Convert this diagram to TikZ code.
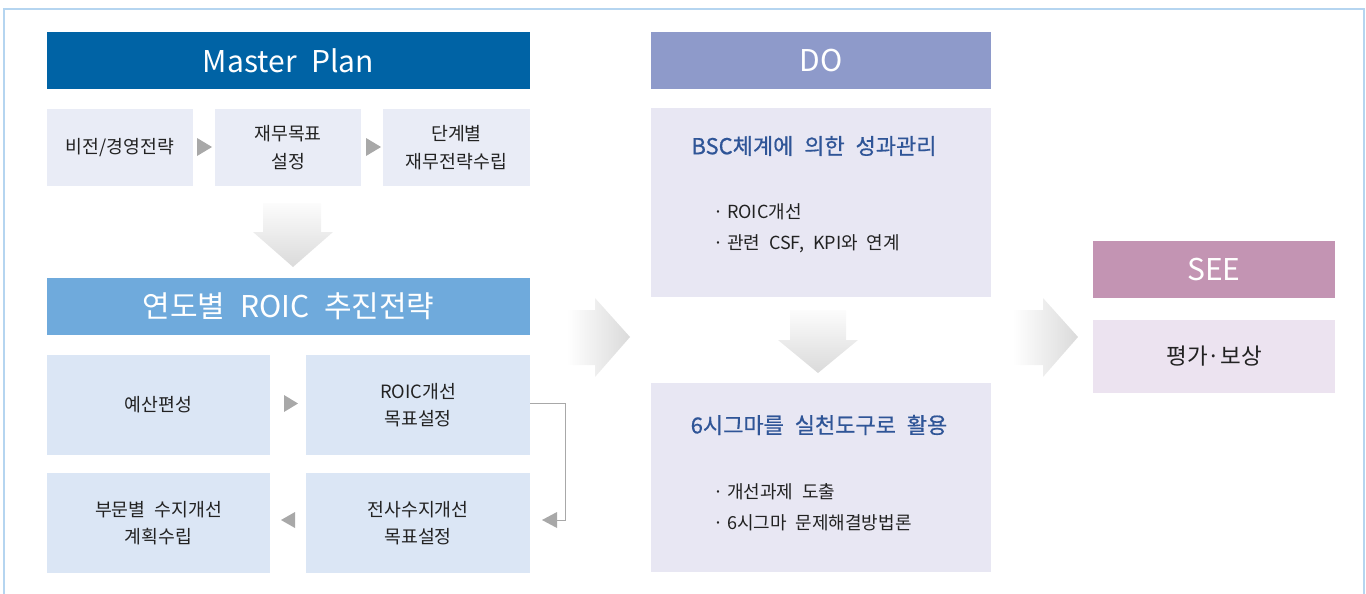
\documentclass[tikz,border=0pt]{standalone}
\usepackage{fontspec}
\setmainfont{Noto Sans CJK KR}[WordSpace=2.2]
\newfontfamily\titlefont{Noto Sans CJK KR}[WordSpace=2.2,FakeBold=0.6]
\usetikzlibrary{arrows.meta,shapes.geometric}
\definecolor{mpblue}{RGB}{0,99,165}
\definecolor{subgray}{RGB}{233,236,246}
\definecolor{roicblue}{RGB}{111,170,220}
\definecolor{lowblue}{RGB}{219,230,245}
\definecolor{dohead}{RGB}{142,154,202}
\definecolor{dobox}{RGB}{232,231,243}
\definecolor{seehead}{RGB}{195,148,179}
\definecolor{seebox}{RGB}{236,227,240}
\definecolor{framec}{RGB}{181,213,240}
\definecolor{titlec}{RGB}{47,85,151}
\definecolor{trigray}{RGB}{168,168,168}
\definecolor{txt}{RGB}{34,34,34}
\definecolor{shadeend}{RGB}{218,218,218}
\definecolor{shadestart}{RGB}{252,252,252}
\tikzset{
  box/.style={inner sep=0pt, outer sep=0pt, align=center, text=txt, font=\fontsize{18.3}{27.5}\selectfont},
  head/.style={box, text=white, font=\fontsize{30}{34}\selectfont},
  tri/.style={fill=trigray, draw=none},
  conn/.style={draw=trigray, line width=1pt},
  bigarrow/.style={draw=none},
  dotitle/.style={box, text=titlec, font=\titlefont\fontsize{22}{26}\selectfont},
  bullets/.style={box, anchor=west, align=left, font=\fontsize{18}{31}\selectfont},
}
\newcommand{\bul}{·\hspace{4pt}}
\begin{document}
\begin{tikzpicture}[x=1pt,y=-1pt]
\useasboundingbox (0,0) rectangle (1366,594);
\draw[framec, line width=1.5pt] (4,594) -- (4,9) -- (1364,9) -- (1364,594);

% Master Plan column
\node[head, fill=mpblue, minimum width=483pt, minimum height=57pt] (mp) at (288.5,60.5) {Master Plan};
\node[box, fill=subgray, minimum width=146pt, minimum height=77pt] (vis) at (120,147.5) {비전/경영전략};
\node[box, fill=subgray, minimum width=146pt, minimum height=77pt] (fin) at (288,147.5) {재무목표\\설정};
\node[box, fill=subgray, minimum width=147pt, minimum height=77pt] (stg) at (456.5,147.5) {단계별\\재무전략수립};
\path[tri] (197,138) -- (212,147) -- (197,156) -- cycle;
\path[tri] (366,138) -- (381,147) -- (366,156) -- cycle;

% down arrow 1
\shade[top color=shadestart, bottom color=shadeend, bigarrow]
  (263,203) -- (321,203) -- (321,232) -- (333,232) -- (293,267) -- (253,232) -- (263,232) -- cycle;

\node[head, fill=roicblue, minimum width=483pt, minimum height=57pt] (roic) at (288.5,306.5) {연도별 ROIC 추진전략};
\node[box, fill=lowblue, minimum width=223pt, minimum height=100pt] (bud) at (158.5,405) {예산편성};
\node[box, fill=lowblue, minimum width=224pt, minimum height=100pt] (tgt) at (418,405) {ROIC개선\\목표설정};
\node[box, fill=lowblue, minimum width=223pt, minimum height=100pt] (dep) at (158.5,523) {부문별 수지개선\\계획수립};
\node[box, fill=lowblue, minimum width=224pt, minimum height=100pt] (all) at (418,523) {전사수지개선\\목표설정};
\path[tri] (284,395) -- (298,403.5) -- (284,412) -- cycle;
\path[tri] (295,512) -- (281,520) -- (295,528) -- cycle;
\coordinate (ctip) at (556,520);
\draw[conn] (tgt.east |- 0,403) -- (565,403) |- (ctip);
\path[tri] (557,512) -- (542,520) -- (557,528) -- cycle;

% right arrow 1
\shade[left color=white, right color=shadeend, bigarrow]
  (567,310) -- (595,310) -- (595,298) -- (630,337) -- (595,377) -- (595,365) -- (567,365) -- cycle;

% DO column
\node[head, fill=dohead, minimum width=340pt, minimum height=57pt] (do) at (821,60.5) {DO};
\node[box, fill=dobox, minimum width=340pt, minimum height=189pt] (bsc) at (821,202.5) {};
\node[dotitle] (bsct) at (814,146) {BSC체계에 의한 성과관리};
\node[bullets] (bscl) at (713,228) {\bul ROIC개선\\\bul 관련 CSF, KPI와 연계};

\shade[top color=shadestart, bottom color=shadeend, bigarrow]
  (790,310) -- (846,310) -- (846,340) -- (858,340) -- (818,373) -- (778,340) -- (790,340) -- cycle;

\node[box, fill=dobox, minimum width=340pt, minimum height=189pt] (six) at (821,477.5) {};
\node[dotitle] (sixt) at (819,425) {6시그마를 실천도구로 활용};
\node[bullets] (sixl) at (713,507.5) {\bul 개선과제 도출\\\bul 6시그마 문제해결방법론};

% right arrow 2
\shade[left color=white, right color=shadeend, bigarrow]
  (1013,310) -- (1043,310) -- (1043,298) -- (1078,337) -- (1043,377) -- (1043,365) -- (1013,365) -- cycle;

% SEE column
\node[head, fill=seehead, minimum width=242pt, minimum height=57pt] (see) at (1214,269.5) {SEE};
\node[box, fill=seebox, minimum width=242pt, minimum height=73pt, font=\fontsize{22.5}{27}\selectfont] (rew) at (1214,356.5) {평가·보상};
\end{tikzpicture}
\end{document}
